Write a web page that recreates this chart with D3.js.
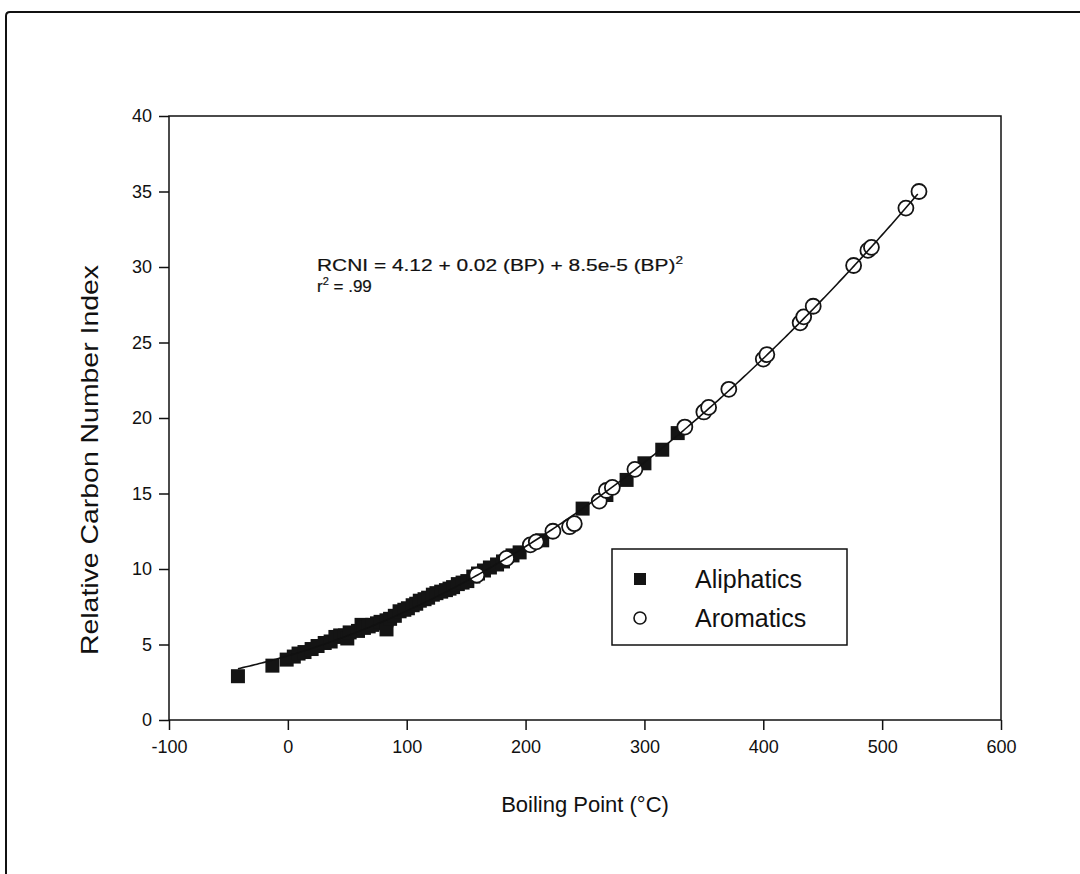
<!DOCTYPE html>
<html>
<head>
<meta charset="utf-8">
<script src="https://cdn.jsdelivr.net/npm/d3@7"></script>
<style>
  html, body { margin: 0; padding: 0; background: #fff; }
  svg { display: block; font-family: Arial, "Liberation Sans", sans-serif; }
</style>
</head>
<body>
<div id="chart"></div>
<script>
// Aliphatics: boiling point (°C) and relative carbon number index
const aliphaticBP   = [-42, -13, -1, 5, 9, 14, 20, 25, 31, 36, 40, 44, 48, 50, 52, 59, 62, 64, 68, 71, 75, 78, 83, 83, 86, 90, 94, 98, 101, 105, 108, 111, 115, 118, 122, 125, 129, 133, 136, 139, 143, 147, 151, 156, 160, 165, 170, 176, 181, 189, 195, 214, 248, 268, 285, 300, 315, 328];
const aliphaticRCNI = [2.9, 3.6, 4.0, 4.2, 4.4, 4.5, 4.7, 4.9, 5.1, 5.2, 5.5, 5.6, 5.6, 5.4, 5.8, 5.9, 6.3, 6.1, 6.2, 6.3, 6.4, 6.5, 6.6, 6.0, 6.7, 6.9, 7.2, 7.3, 7.4, 7.6, 7.7, 7.9, 8.0, 8.1, 8.3, 8.4, 8.5, 8.6, 8.7, 8.8, 9.0, 9.1, 9.2, 9.5, 9.7, 9.9, 10.1, 10.3, 10.5, 10.9, 11.1, 11.9, 14.0, 14.9, 15.9, 17.0, 17.9, 19.0];

// Aromatics
const aromaticBP   = [159, 184, 204, 209, 223, 237, 241, 262, 268, 273, 292, 334, 350, 354, 371, 400, 403, 431, 434, 442, 476, 488, 491, 520, 531];
const aromaticRCNI = [9.6, 10.7, 11.6, 11.8, 12.5, 12.8, 13.0, 14.5, 15.2, 15.4, 16.6, 19.4, 20.4, 20.7, 21.9, 23.9, 24.2, 26.3, 26.7, 27.4, 30.1, 31.1, 31.3, 33.9, 35.0];

const xTicks = [-100, 0, 100, 200, 300, 400, 500, 600];
const yTicks = [0, 5, 10, 15, 20, 25, 30, 35, 40];

const W = 1080, H = 874;
const plot = { left: 169, right: 1001, top: 116, bottom: 720 };

const svg = d3.select("#chart").append("svg")
    .attr("width", W)
    .attr("height", H);

// outer frame (top and left edges only visible)
svg.append("path")
    .attr("d", `M6,874 L6,16 Q6,12 10,12 L1080,12`)
    .attr("fill", "none")
    .attr("stroke", "#111")
    .attr("stroke-width", 2);

const x = d3.scaleLinear().domain([-100, 600]).range([plot.left, plot.right]);
const y = d3.scaleLinear().domain([0, 40]).range([plot.bottom, plot.top]);

// plot frame
svg.append("rect")
    .attr("x", plot.left)
    .attr("y", plot.top)
    .attr("width", plot.right - plot.left)
    .attr("height", plot.bottom - plot.top)
    .attr("fill", "none")
    .attr("stroke", "#111")
    .attr("stroke-width", 1.5);

// axes
const xAxis = svg.append("g")
    .attr("transform", `translate(0,${plot.bottom})`)
    .call(d3.axisBottom(x).tickValues(xTicks).tickSize(10).tickSizeOuter(0).tickFormat(d => String(d)));
const yAxis = svg.append("g")
    .attr("transform", `translate(${plot.left},0)`)
    .call(d3.axisLeft(y).tickValues(yTicks).tickSize(10).tickSizeOuter(0).tickFormat(d => String(d)));

[xAxis, yAxis].forEach(g => {
    g.select(".domain").remove();
    g.selectAll("line").attr("stroke", "#111").attr("stroke-width", 1.5);
    g.selectAll("text")
        .attr("fill", "#111")
        .style("font-size", "18px")
        .style("font-family", "Arial, 'Liberation Sans', sans-serif");
});
xAxis.selectAll("text").attr("dy", "1.1em").attr("y", 13);
yAxis.selectAll("text").attr("x", -17);

// axis titles
svg.append("text")
    .attr("x", (plot.left + plot.right) / 2)
    .attr("y", 812)
    .attr("text-anchor", "middle")
    .style("font-size", "22px")
    .attr("fill", "#111")
    .text("Boiling Point (°C)");

svg.append("text")
    .attr("transform", `translate(98,460) rotate(-90)`)
    .attr("text-anchor", "middle")
    .style("font-size", "24px")
    .attr("fill", "#111")
    .attr("textLength", 390)
    .attr("lengthAdjust", "spacingAndGlyphs")
    .text("Relative Carbon Number Index");

// quadratic least-squares fit over all points
const allBP = aliphaticBP.concat(aromaticBP);
const allR = aliphaticRCNI.concat(aromaticRCNI);
function quadFit(xs, ys) {
    const S = [0, 0, 0, 0, 0], T = [0, 0, 0];
    xs.forEach((xv, i) => {
        let p = 1;
        for (let k = 0; k < 5; k++) { S[k] += p; if (k < 3) T[k] += p * ys[i]; p *= xv; }
    });
    const A = [[S[0], S[1], S[2], T[0]], [S[1], S[2], S[3], T[1]], [S[2], S[3], S[4], T[2]]];
    for (let i = 0; i < 3; i++) {
        for (let j = i + 1; j < 3; j++) {
            const f = A[j][i] / A[i][i];
            for (let k = i; k < 4; k++) A[j][k] -= f * A[i][k];
        }
    }
    const c = [0, 0, 0];
    for (let i = 2; i >= 0; i--) {
        let s = A[i][3];
        for (let k = i + 1; k < 3; k++) s -= A[i][k] * c[k];
        c[i] = s / A[i][i];
    }
    return c;
}
const coef = quadFit(allBP, allR);
const fitX = d3.range(d3.min(allBP), d3.max(allBP) + 1, 2);

// aliphatic squares
const sq = 14;
svg.selectAll(".ali")
    .data(aliphaticBP)
    .enter().append("rect")
    .attr("class", "ali")
    .attr("x", (d, i) => x(d) - sq / 2)
    .attr("y", (d, i) => y(aliphaticRCNI[i]) - sq / 2)
    .attr("width", sq)
    .attr("height", sq)
    .attr("fill", "#141414");

// aromatic circles
svg.selectAll(".aro")
    .data(aromaticBP)
    .enter().append("circle")
    .attr("class", "aro")
    .attr("cx", d => x(d))
    .attr("cy", (d, i) => y(aromaticRCNI[i]))
    .attr("r", 7.5)
    .attr("fill", "#fff")
    .attr("stroke", "#141414")
    .attr("stroke-width", 1.8);

// fitted curve
svg.append("path")
    .datum(fitX)
    .attr("d", d3.line().x(d => x(d)).y(d => y(coef[0] + coef[1] * d + coef[2] * d * d)))
    .attr("fill", "none")
    .attr("stroke", "#111")
    .attr("stroke-width", 1.6);

// equation annotation
const eq = svg.append("text")
    .attr("x", 317)
    .attr("y", 271)
    .style("font-size", "17px")
    .attr("fill", "#111")
    .attr("stroke", "#111")
    .attr("stroke-width", 0.2)
    .attr("textLength", 366)
    .attr("lengthAdjust", "spacingAndGlyphs");
eq.append("tspan").text("RCNI = 4.12 + 0.02 (BP) + 8.5e-5 (BP)");
eq.append("tspan").attr("dy", -7).style("font-size", "11px").text("2");

const r2 = svg.append("text")
    .attr("x", 317)
    .attr("y", 292)
    .style("font-size", "17px")
    .attr("fill", "#111")
    .attr("stroke", "#111")
    .attr("stroke-width", 0.2);
r2.append("tspan").text("r");
r2.append("tspan").attr("dy", -7).style("font-size", "11px").text("2");
r2.append("tspan").attr("dy", 7).text(" = .99");

// legend
const legend = svg.append("g");
legend.append("rect")
    .attr("x", 612).attr("y", 549)
    .attr("width", 235).attr("height", 96)
    .attr("fill", "#fff")
    .attr("stroke", "#111")
    .attr("stroke-width", 1.5);
legend.append("rect")
    .attr("x", 640 - 6).attr("y", 579 - 6)
    .attr("width", 12).attr("height", 12)
    .attr("fill", "#141414");
legend.append("circle")
    .attr("cx", 640).attr("cy", 618).attr("r", 6)
    .attr("fill", "#fff").attr("stroke", "#141414").attr("stroke-width", 1.6);
legend.append("text")
    .attr("x", 695).attr("y", 588)
    .style("font-size", "25px").attr("fill", "#111")
    .text("Aliphatics");
legend.append("text")
    .attr("x", 695).attr("y", 627)
    .style("font-size", "25px").attr("fill", "#111")
    .text("Aromatics");
</script>
</body>
</html>
